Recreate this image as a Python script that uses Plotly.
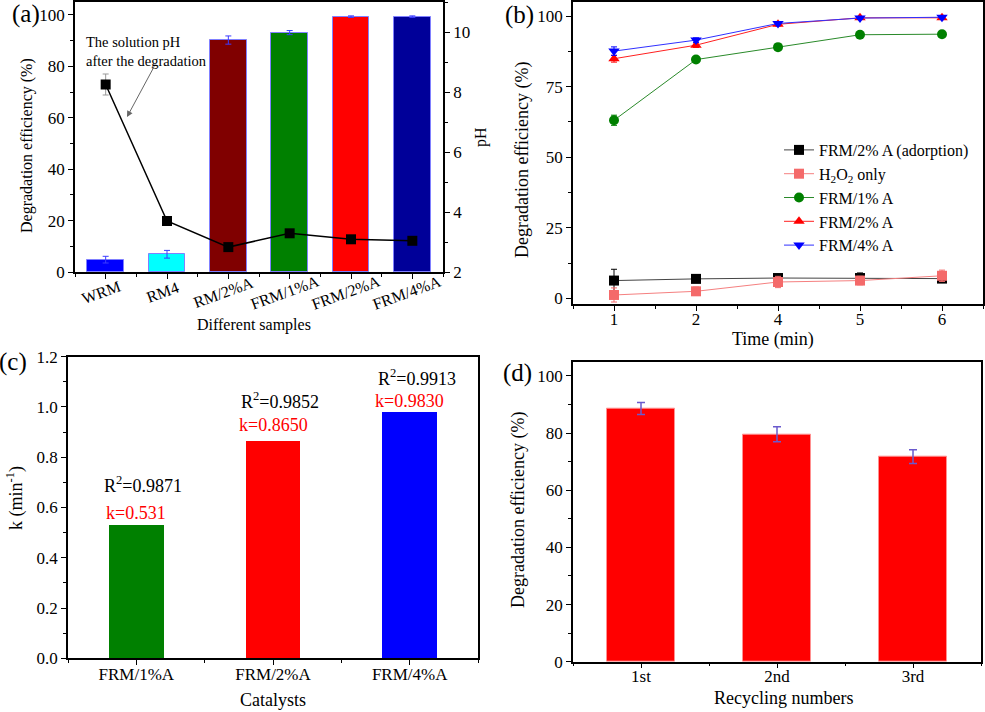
import plotly.graph_objects as go

FONT = "Liberation Serif, Times New Roman, serif"
W, H = 985, 712

# ---------------- data ----------------
# (a)
samples = ["WRM", "RM4", "RM/2%A", "FRM/1%A", "FRM/2%A", "FRM/4%A"]
eff_a = [4.8, 6.9, 90.2, 93.1, 99.3, 99.3]
eff_a_err = [1.3, 1.5, 1.6, 0.8, 0.3, 0.3]
ph_a = [8.25, 3.70, 2.83, 3.29, 3.09, 3.04]
ph_a_err = [0.35, 0.05, 0.05, 0.08, 0.08, 0.05]
colors_a = ["#0000FF", "#00FFFF", "#800000", "#008000", "#FF0000", "#000099"]

# (b)
time_labels = ["1", "2", "4", "5", "6"]
ads = [6.3, 6.9, 7.2, 7.2, 7.0]
ads_err = [4.0, 1.0, 1.2, 1.8, 1.0]
h2o2 = [1.2, 2.5, 5.8, 6.3, 8.0]
h2o2_err = [2.5, 1.5, 2.0, 1.5, 2.0]
frm1 = [63.1, 84.6, 89.0, 93.4, 93.6]
frm1_err = [1.8, 0.8, 0.6, 0.5, 0.5]
frm2 = [84.9, 89.7, 97.1, 99.4, 99.4]
frm2_err = [1.2, 0.8, 0.6, 0.4, 0.4]
frm4 = [87.6, 91.5, 97.4, 99.3, 99.6]
frm4_err = [1.5, 0.8, 0.5, 0.4, 0.3]

# (c)
catalysts = ["FRM/1%A", "FRM/2%A", "FRM/4%A"]
k_vals = [0.531, 0.865, 0.983]
k_labels = ["k=0.531", "k=0.8650", "k=0.9830"]
r2_labels = ["R<sup>2</sup>=0.9871", "R<sup>2</sup>=0.9852", "R<sup>2</sup>=0.9913"]
colors_c = ["#008000", "#FF0000", "#0000FF"]

# (d)
cycles = ["1st", "2nd", "3rd"]
eff_d = [88.6, 79.6, 71.8]
eff_d_err = [2.1, 2.6, 2.4]


def px_x(x):
    return x / W


def px_y(y):
    return 1 - y / H


fig = go.Figure()

# ---------- (a) ----------
idx_a = list(range(len(samples)))
fig.add_trace(go.Bar(
    x=idx_a, y=eff_a, width=0.6,
    marker=dict(color=colors_a, line=dict(color="#8080ff", width=1)),
    error_y=dict(type="data", array=eff_a_err, color="#3c3cff", thickness=1, width=3),
    xaxis="x", yaxis="y", showlegend=False))
fig.add_trace(go.Scatter(
    x=idx_a, y=ph_a, mode="lines+markers",
    line=dict(color="black", width=1.5),
    marker=dict(symbol="square", size=10, color="black"),
    error_y=dict(type="data", array=ph_a_err, color="#999999", thickness=1, width=3),
    xaxis="x", yaxis="y2", showlegend=False))

# ---------- (b) ----------
idx_b = list(range(1, len(time_labels) + 1))
series_b = [
    ("FRM/2% A (adorption)", ads, ads_err, "#444444", "#000000", "square"),
    ("H<sub>2</sub>O<sub>2</sub> only", h2o2, h2o2_err, "#f58080", "#f46a6a", "square"),
    ("FRM/1% A", frm1, frm1_err, "#2a8a2a", "#008000", "circle"),
    ("FRM/2% A", frm2, frm2_err, "#ff2020", "#ff0000", "triangle-up"),
    ("FRM/4% A", frm4, frm4_err, "#3030ff", "#0000ff", "triangle-down"),
]
for name, vals, errs, lc, mc, sym in series_b:
    fig.add_trace(go.Scatter(
        x=idx_b, y=vals, name=name, mode="lines+markers",
        line=dict(color=lc, width=1),
        marker=dict(symbol=sym, size=10, color=mc),
        error_y=dict(type="data", array=errs, color=mc, thickness=1, width=3),
        xaxis="x2", yaxis="y3", showlegend=True))

# ---------- (c) ----------
idx_c = list(range(len(catalysts)))
fig.add_trace(go.Bar(
    x=idx_c, y=k_vals, width=0.4,
    marker=dict(color=colors_c, line=dict(width=0)),
    xaxis="x3", yaxis="y4", showlegend=False))

# ---------- (d) ----------
idx_d = list(range(len(cycles)))
fig.add_trace(go.Bar(
    x=idx_d, y=eff_d, width=0.5,
    marker=dict(color="#FF0000", line=dict(color="#ff9090", width=1)),
    error_y=dict(type="data", array=eff_d_err, color="#6a5acd", thickness=1.5, width=4),
    xaxis="x4", yaxis="y5", showlegend=False))

tickfont = dict(family=FONT, size=17, color="black")
common = dict(showline=True, linecolor="black", linewidth=1.5, ticks="outside",
              ticklen=5, tickwidth=1.2, tickcolor="black", showgrid=False,
              zeroline=False, tickfont=tickfont, automargin=False)
minor_common = dict(ticks="outside", ticklen=3, tickwidth=1, tickcolor="black", showgrid=False)

layout = dict(
    width=W, height=H, margin=dict(l=0, r=0, t=0, b=0, pad=0, autoexpand=False),
    paper_bgcolor="white", plot_bgcolor="white",
    font=dict(family=FONT, color="black"),
    bargap=0,
    # (a)
    xaxis=dict(domain=[px_x(75), px_x(443)], anchor="y", range=[-0.5, 5.5],
               tickvals=idx_a, showticklabels=False, mirror=True,
               minor=dict(tick0=0.5, dtick=1, **minor_common), **common),
    yaxis=dict(domain=[px_y(272), px_y(2)], anchor="x", range=[0, 105],
               dtick=20, minor=dict(dtick=10, **minor_common), **common),
    yaxis2=dict(overlaying="y", side="right", anchor="x", range=[2, 11],
                dtick=2, minor=dict(dtick=1, **minor_common), **common),
    # (b)
    xaxis2=dict(domain=[px_x(573), px_x(983)], anchor="y3", range=[0.5, 5.5],
                tickvals=idx_b, ticktext=time_labels, mirror=True, ticklabelstandoff=-6,
                minor=dict(tick0=0.5, dtick=1, **minor_common), **common),
    yaxis3=dict(domain=[px_y(304), px_y(2)], anchor="x2", range=[-2, 105],
                tickvals=[0, 25, 50, 75, 100], mirror=True,
                minor=dict(tick0=0, dtick=12.5, **minor_common), **common),
    # (c)
    xaxis3=dict(domain=[px_x(68), px_x(478)], anchor="y4", range=[-0.5, 2.5],
                tickvals=idx_c, ticktext=catalysts, mirror=True, ticklabelstandoff=-5,
                minor=dict(tick0=0.5, dtick=1, **minor_common), **common),
    yaxis4=dict(domain=[px_y(658.3), px_y(356.7)], anchor="x3", range=[0, 1.2],
                dtick=0.2, tickformat=".1f", mirror=True,
                minor=dict(dtick=0.1, **minor_common), **common),
    # (d)
    xaxis4=dict(domain=[px_x(573), px_x(981)], anchor="y5", range=[-0.5, 2.5],
                tickvals=idx_d, ticktext=cycles, mirror=True, ticklabelstandoff=-7,
                minor=dict(tick0=0.5, dtick=1, **minor_common), **common),
    yaxis5=dict(domain=[px_y(661.7), px_y(361.7)], anchor="x4", range=[0, 105],
                dtick=20, mirror=True,
                minor=dict(dtick=10, **minor_common), **common),
    legend=dict(x=px_x(779), y=px_y(133), xanchor="left", yanchor="top",
                bgcolor="rgba(0,0,0,0)", font=dict(family=FONT, size=16, color="black"),
                tracegroupgap=0, itemwidth=30),
)
fig.update_layout(**layout)

ann = []


def text(x, y, s, size=18, color="black", angle=0, xanchor="center"):
    ann.append(dict(x=x, y=y, xref="paper", yref="paper", text=s, showarrow=False,
                    font=dict(family=FONT, size=size, color=color), textangle=angle,
                    xanchor=xanchor, yanchor="middle"))


# panel labels
text(px_x(26), px_y(14), "(a)", size=25)
text(px_x(519), px_y(15), "(b)", size=25)
text(px_x(13), px_y(362), "(c)", size=25)
text(px_x(517), px_y(373), "(d)", size=25)

# axis titles
text(px_x(27), px_y(146), "Degradation efficiency (%)", size=16, angle=-90)
text(px_x(481), px_y(137), "pH", size=16, angle=-90)
text(px_x(254), px_y(325), "Different samples", size=16)
text(px_x(522), px_y(160), "Degradation efficiency (%)", angle=-90)
text(px_x(773), px_y(340), "Time (min)")
text(px_x(15), px_y(498), "k (min<sup>-1</sup>)", angle=-90)
text(px_x(273), px_y(700), "Catalysts")
text(px_x(518), px_y(510), "Degradation efficiency (%)", angle=-90)
text(px_x(783), px_y(698), "Recycling numbers")

# rotated category labels for (a)
for i, s in enumerate(samples):
    ann.append(dict(x=i, y=px_y(292), xref="x", yref="paper", text=s, showarrow=False,
                    font=dict(family=FONT, size=16, color="black"), textangle=-20,
                    xanchor="center", yanchor="middle", xshift=-5))

# annotation in (a)
ann.append(dict(x=px_x(84), y=px_y(51), xref="paper", yref="paper",
                text="The solution pH<br>after the degradation", showarrow=False,
                align="left", xanchor="left", yanchor="middle",
                font=dict(family=FONT, size=14.5, color="black")))
ann.append(dict(x=px_x(127), y=px_y(117), xref="paper", yref="paper", text="",
                showarrow=True, ax=28, ay=-52, arrowhead=2, arrowsize=1.2,
                arrowwidth=1, arrowcolor="#666666"))

# (c) labels
k_shift = [12, 16, 10]
r2_shift = [40, 40, 34]
for i in idx_c:
    ann.append(dict(x=i, y=k_vals[i], xref="x3", yref="y4", text=k_labels[i],
                    showarrow=False, yanchor="middle", yshift=k_shift[i],
                    font=dict(family=FONT, size=18, color="#FF0000")))
    ann.append(dict(x=i, y=k_vals[i], xref="x3", yref="y4", text=r2_labels[i],
                    showarrow=False, yanchor="middle", yshift=r2_shift[i], xshift=7,
                    font=dict(family=FONT, size=18, color="black")))

fig.update_layout(annotations=ann)
fig.write_html("out.html", config={"displayModeBar": False},
               post_script="document.body.style.margin='0px';document.body.style.overflow='hidden';")
